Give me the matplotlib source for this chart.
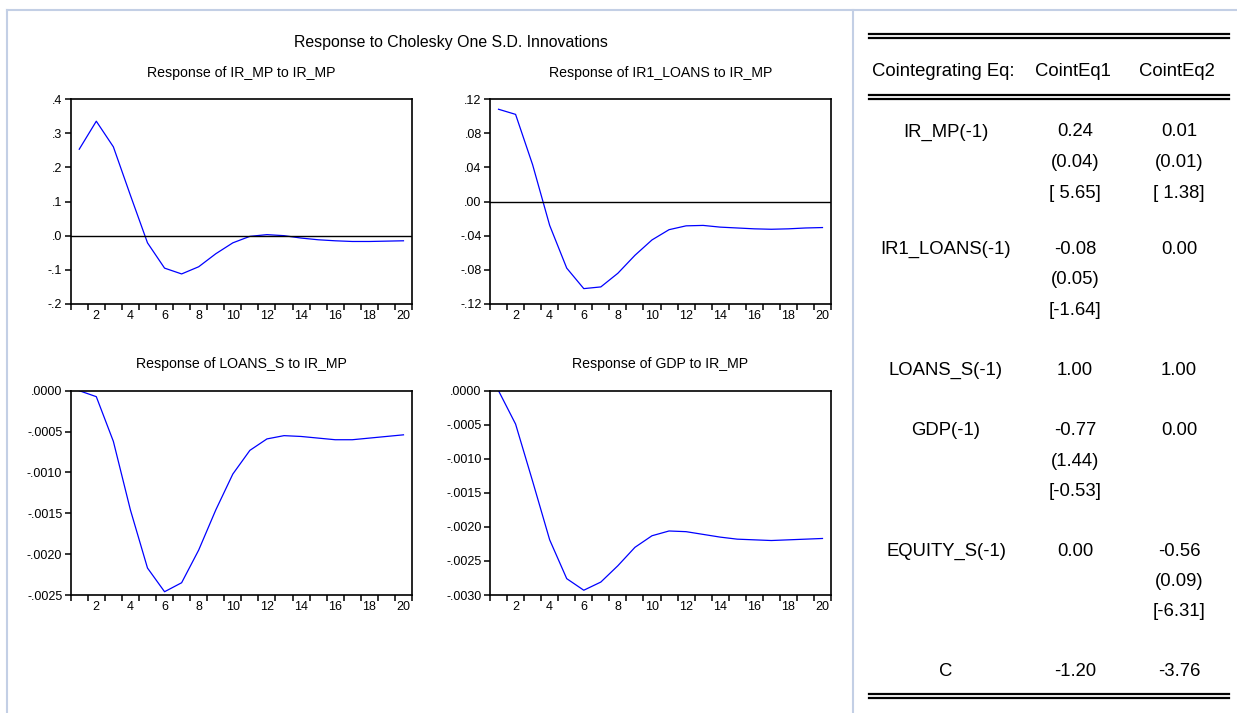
import matplotlib
matplotlib.use('Agg')
import matplotlib.pyplot as plt
import numpy as np
from matplotlib.lines import Line2D
from matplotlib.ticker import FixedLocator, FuncFormatter

plt.rcParams['font.family'] = ['Liberation Sans', 'DejaVu Sans']

W, H = 1237, 713

periods = list(range(1, 21))

resp_ir_mp = [0.253, 0.335, 0.260, 0.118, -0.021, -0.095, -0.112, -0.091, -0.053, -0.021,
              -0.002, 0.003, 0.000, -0.007, -0.012, -0.015, -0.017, -0.017, -0.016, -0.015]
resp_ir1_loans = [0.108, 0.102, 0.043, -0.028, -0.078, -0.102, -0.100, -0.084, -0.063, -0.045,
                  -0.033, -0.0285, -0.028, -0.030, -0.031, -0.032, -0.0325, -0.032, -0.031, -0.0305]
resp_loans_s = [0.0, -0.000073, -0.00062, -0.00146, -0.00217, -0.00246, -0.00235, -0.00195,
                -0.00146, -0.00102, -0.00073, -0.00059, -0.00055, -0.00056, -0.00058, -0.00060,
                -0.00060, -0.00058, -0.00056, -0.00054]
resp_gdp = [0.0, -0.00049, -0.00133, -0.00219, -0.00276, -0.00293, -0.00281, -0.00257,
            -0.00230, -0.00213, -0.00206, -0.00207, -0.00211, -0.00215, -0.00218, -0.00219,
            -0.00220, -0.00219, -0.00218, -0.00217]

panel_titles = ['Response of IR_MP to IR_MP', 'Response of IR1_LOANS to IR_MP',
                'Response of LOANS_S to IR_MP', 'Response of GDP to IR_MP']
panel_data = [resp_ir_mp, resp_ir1_loans, resp_loans_s, resp_gdp]
panel_yticks = [[-0.2, -0.1, 0.0, 0.1, 0.2, 0.3, 0.4],
                [-0.12, -0.08, -0.04, 0.0, 0.04, 0.08, 0.12],
                [-0.0025, -0.0020, -0.0015, -0.0010, -0.0005, 0.0],
                [-0.0030, -0.0025, -0.0020, -0.0015, -0.0010, -0.0005, 0.0]]
panel_decimals = [1, 2, 4, 4]

# cointegrating equation table
table_header = ['Cointegrating Eq:', 'CointEq1', 'CointEq2']
table_rows = [
    ('IR_MP(-1)', ['0.24', '(0.04)', '[ 5.65]'], ['0.01', '(0.01)', '[ 1.38]']),
    ('IR1_LOANS(-1)', ['-0.08', '(0.05)', '[-1.64]'], ['0.00']),
    ('LOANS_S(-1)', ['1.00'], ['1.00']),
    ('GDP(-1)', ['-0.77', '(1.44)', '[-0.53]'], ['0.00']),
    ('EQUITY_S(-1)', ['0.00'], ['-0.56', '(0.09)', '[-6.31]']),
    ('C', ['-1.20'], ['-3.76']),
]


def fx(px):
    return px / W


def fy(py):
    return 1 - py / H


def fig_line(fig, x0, x1, y0, y1, color, lw):
    fig.add_artist(Line2D([fx(x0), fx(x1)], [fy(y0), fy(y1)], color=color, lw=lw,
                          transform=fig.transFigure))


def make_fmt(dec):
    def f(v, pos):
        s = '%.*f' % (dec, v)
        if abs(v) < 1e-12:
            s = '%.*f' % (dec, 0.0)
        return s.replace('0.', '.', 1)
    return f


fig = plt.figure(figsize=(W / 100, H / 100), dpi=100)

boxes = [(70.7, 412, 99, 304), (490, 831, 99, 304),
         (70.7, 412, 390.7, 595), (490, 831, 390.7, 595)]

for i, (l, r, t, b) in enumerate(boxes):
    ax = fig.add_axes([fx(l), fy(b), (r - l) / W, (b - t) / H])
    ax.plot(periods, panel_data[i], color='#0000ff', lw=0.9)
    if i < 2:
        ax.axhline(0, color='black', lw=1.0)
    yt = panel_yticks[i]
    ax.set_ylim(yt[0], yt[-1])
    ax.set_xlim(0.5, 20.5)
    ax.yaxis.set_major_locator(FixedLocator(yt))
    ax.yaxis.set_major_formatter(FuncFormatter(make_fmt(panel_decimals[i])))
    ax.set_xticks(range(2, 21, 2))
    ax.xaxis.set_minor_locator(FixedLocator(np.arange(0.5, 21, 1)))
    ax.tick_params(axis='x', which='major', length=0, pad=4, labelsize=9)
    ax.tick_params(axis='x', which='minor', length=4, width=1.1, direction='out')
    ax.tick_params(axis='y', length=4, width=1.1, direction='out', pad=2, labelsize=9)
    for sp in ax.spines.values():
        sp.set_linewidth(1.2)
    ax.set_title(panel_titles[i], fontsize=10.2, pad=16)

fig.text(fx(451), fy(43), 'Response to Cholesky One S.D. Innovations', fontsize=11.4,
         ha='center', va='center')

# page frame
frame_c = '#c3cfe5'
fig_line(fig, 7, W, 9.5, 9.5, frame_c, 1.5)
fig_line(fig, 7, 7, 9.5, H, frame_c, 1.5)
fig_line(fig, 853, 853, 9.5, H, frame_c, 1.5)

# table rules
for y in (33.5, 38, 94.5, 99, 693.5, 698):
    fig_line(fig, 869, 1229, y, y, 'black', 1.6)

fs = 13.3
fig.text(fx(872), fy(71), table_header[0], fontsize=fs, ha='left', va='center')
fig.text(fx(1073), fy(71), table_header[1], fontsize=fs, ha='center', va='center')
fig.text(fx(1177), fy(71), table_header[2], fontsize=fs, ha='center', va='center')

row_y = [132, 249.5, 370.5, 431, 551, 671]
line_gap = 30.5
for (name, c1, c2), y in zip(table_rows, row_y):
    fig.text(fx(946), fy(y), name, fontsize=fs, ha='center', va='center')
    for k, s in enumerate(c1):
        fig.text(fx(1075), fy(y + k * line_gap), s, fontsize=fs, ha='center', va='center')
    for k, s in enumerate(c2):
        fig.text(fx(1179), fy(y + k * line_gap), s, fontsize=fs, ha='center', va='center')

fig.savefig('out.png', dpi=100)
